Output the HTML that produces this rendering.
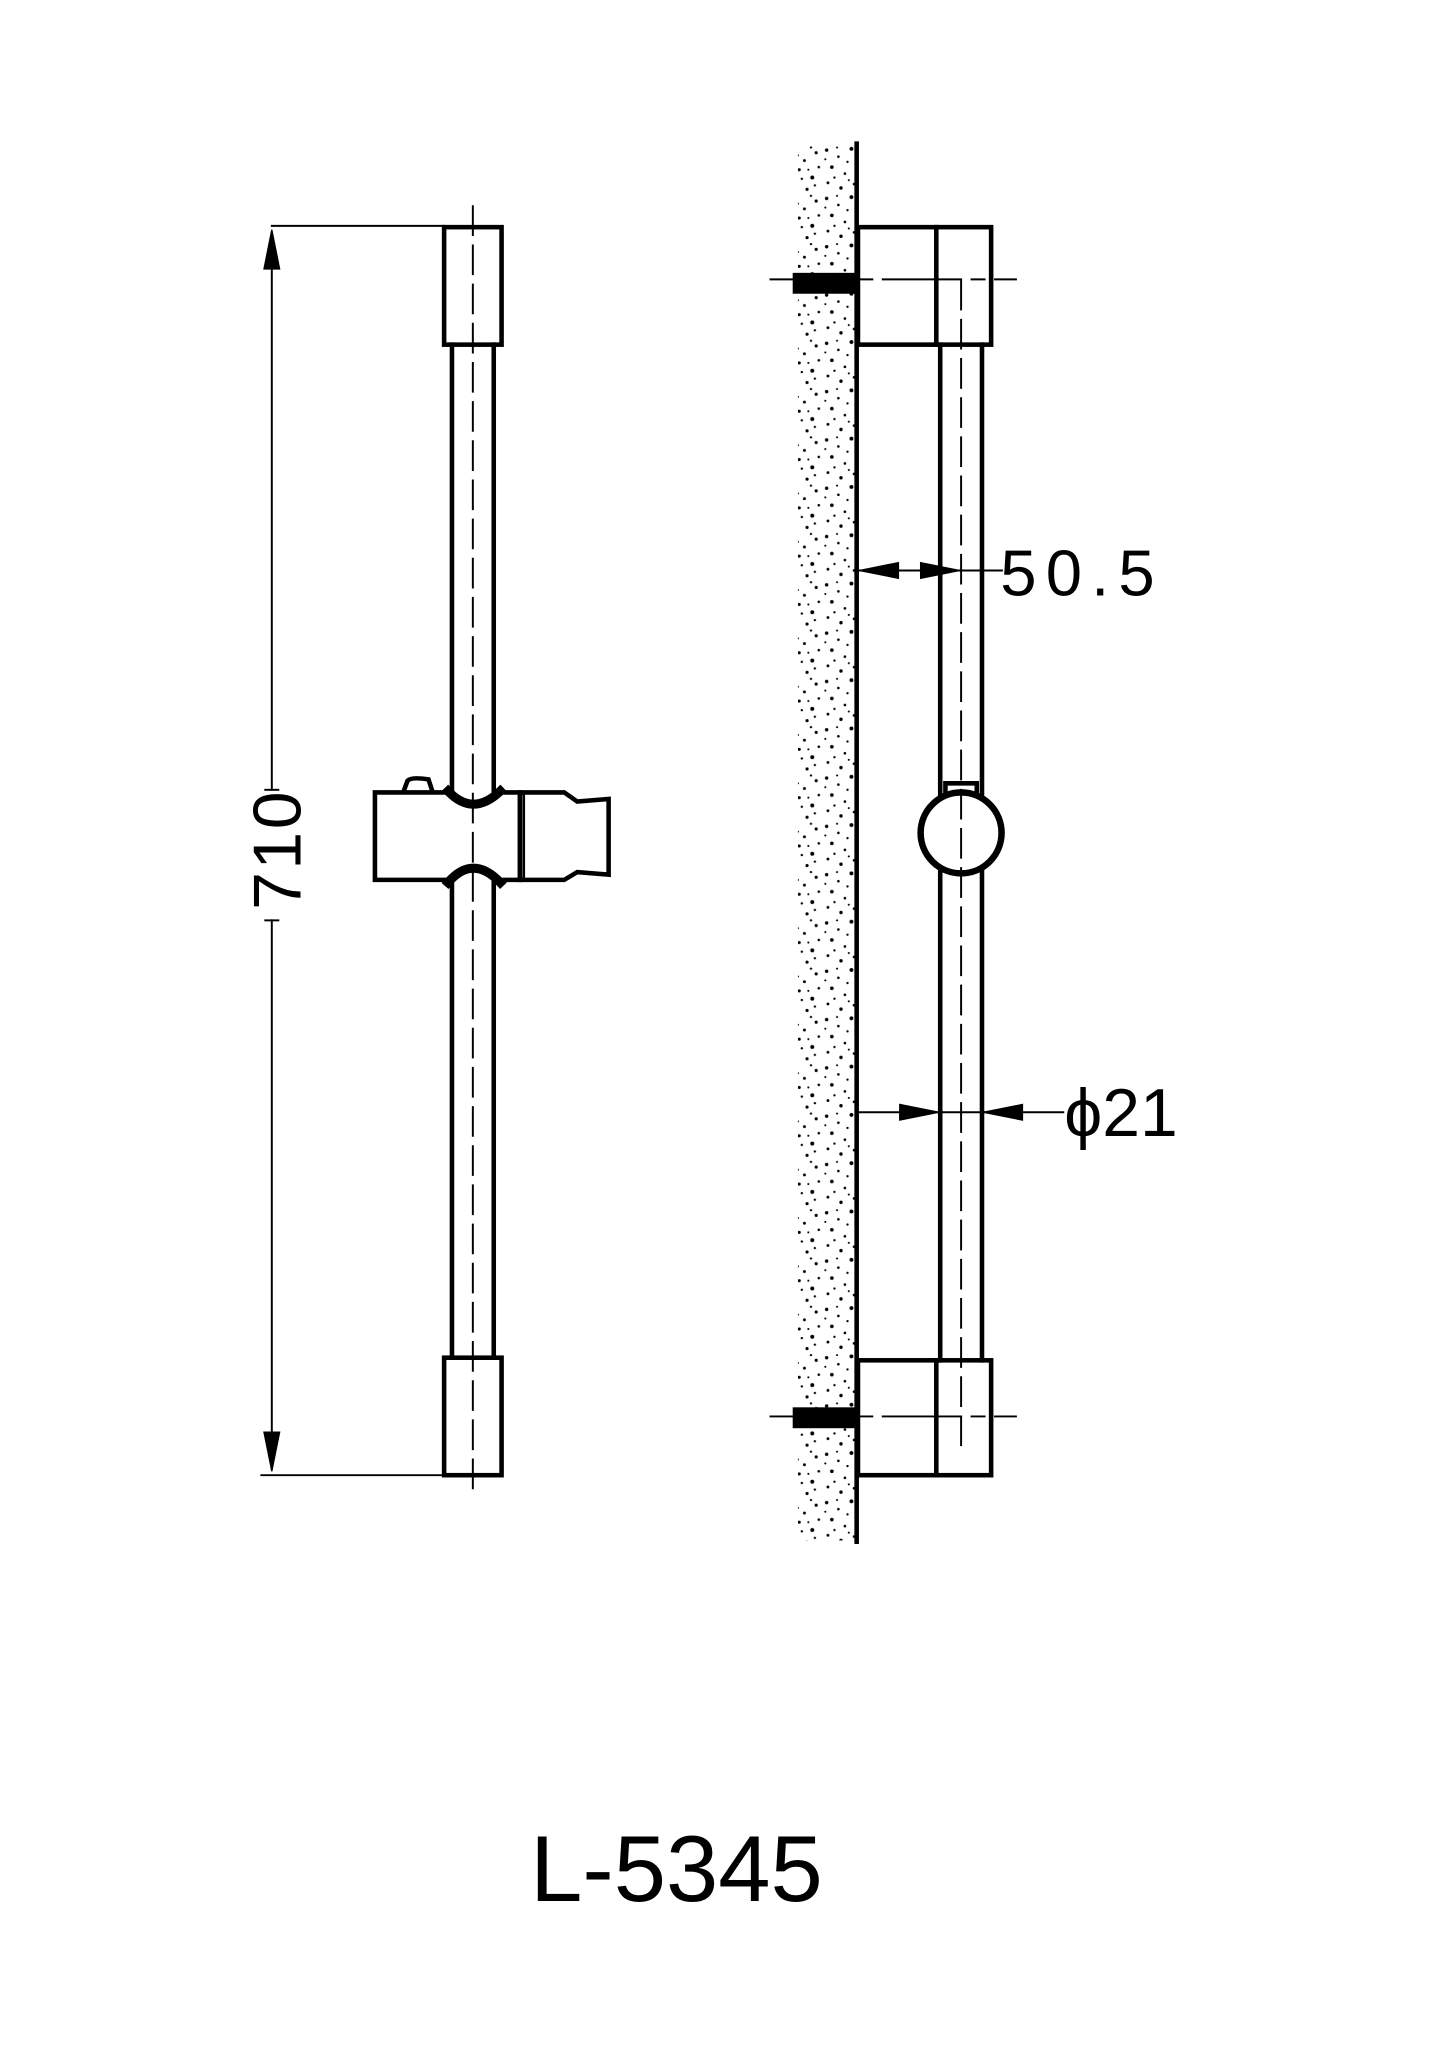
<!DOCTYPE html>
<html><head><meta charset="utf-8"><style>
html,body{margin:0;padding:0;background:#fff}
svg{display:block}
text{font-family:"Liberation Sans",sans-serif}
</style></head><body>
<svg width="1447" height="2047" viewBox="0 0 1108 1568" xmlns="http://www.w3.org/2000/svg">
<defs>
<pattern id="sp" width="45" height="37" patternUnits="userSpaceOnUse">
<g fill="#000">
<circle cx="3" cy="4" r="1.3"/><circle cx="12" cy="9" r="1"/><circle cx="22" cy="3" r="1.5"/>
<circle cx="31" cy="12" r="1.1"/><circle cx="40" cy="6" r="1.2"/><circle cx="7" cy="17" r="1.4"/>
<circle cx="17" cy="22" r="1"/><circle cx="27" cy="19" r="1.2"/><circle cx="37" cy="25" r="1.5"/>
<circle cx="4" cy="29" r="1.1"/><circle cx="14" cy="33" r="1.3"/><circle cx="24" cy="30" r="1"/>
<circle cx="33" cy="34" r="1.2"/><circle cx="42" cy="17" r="1"/><circle cx="19" cy="13" r="0.9"/>
<circle cx="9" cy="25" r="0.9"/><circle cx="29" cy="26" r="0.9"/><circle cx="36" cy="2" r="0.9"/>
<circle cx="2" cy="11" r="0.8"/><circle cx="26" cy="8" r="0.8"/><circle cx="39" cy="31" r="0.9"/>
<circle cx="11" cy="2" r="0.8"/><circle cx="20" cy="27" r="0.8"/><circle cx="34" cy="19" r="0.8"/>
</g></pattern>
</defs>
<g stroke="#000" fill="none" stroke-linecap="square">
<!-- LEFT VIEW -->
<line x1="208" y1="173" x2="340" y2="173" stroke-width="1.5"/>
<line x1="200" y1="1130" x2="340" y2="1130" stroke-width="1.5"/>
<line x1="208" y1="180" x2="208" y2="605" stroke-width="1.5"/>
<line x1="208" y1="705" x2="208" y2="1125" stroke-width="1.5"/>
<line x1="203" y1="605" x2="213" y2="605" stroke-width="1.5"/>
<line x1="203" y1="705" x2="213" y2="705" stroke-width="1.5"/>
<rect x="340" y="174" width="44" height="90" stroke-width="3.5"/>
<rect x="340" y="1040" width="44" height="90" stroke-width="3.5"/>
<line x1="346" y1="264" x2="346" y2="608" stroke-width="3.5"/>
<line x1="378" y1="264" x2="378" y2="608" stroke-width="3.5"/>
<line x1="346" y1="673" x2="346" y2="1040" stroke-width="3.5"/>
<line x1="378" y1="673" x2="378" y2="1040" stroke-width="3.5"/>
<line x1="362" y1="158" x2="362" y2="1145" stroke-width="1.5" stroke-dasharray="22,8"/>
<!-- clamp -->
<path d="M346 607 L287 607 L287 674 L346 674" stroke-width="3.5"/>
<path d="M343 606 Q362 626 383 606" stroke-width="7"/>
<path d="M343 676 Q362 654 383 676" stroke-width="7"/>
<line x1="383" y1="607" x2="398" y2="607" stroke-width="3.5"/>
<line x1="383" y1="674" x2="398" y2="674" stroke-width="3.5"/>
<line x1="398" y1="607" x2="398" y2="674" stroke-width="3.5"/>
<line x1="401" y1="607" x2="401" y2="674" stroke-width="2"/>
<path d="M401 607 L432 607 L442 614 L466 612 L466 670 L442 668 L432 674 L401 674" stroke-width="3.5"/>
<path d="M309 606 L312 598 Q315 595 328 597 L331 606" stroke-width="3.5"/>
<!-- RIGHT VIEW -->
<rect x="611" y="110" width="44" height="1070" fill="url(#sp)" stroke="none"/>
<line x1="656" y1="110" x2="656" y2="1181" stroke-width="3.5"/>
<rect x="657" y="174" width="102" height="90" stroke-width="3.5"/>
<line x1="717" y1="174" x2="717" y2="264" stroke-width="3.5"/>
<rect x="657" y="1042" width="102" height="88" stroke-width="3.5"/>
<line x1="717" y1="1042" x2="717" y2="1130" stroke-width="3.5"/>
<line x1="720" y1="264" x2="720" y2="610" stroke-width="3.5"/>
<line x1="752" y1="264" x2="752" y2="610" stroke-width="3.5"/>
<line x1="720" y1="668" x2="720" y2="1042" stroke-width="3.5"/>
<line x1="752" y1="668" x2="752" y2="1042" stroke-width="3.5"/>
<line x1="736" y1="215" x2="736" y2="1110" stroke-width="1.5" stroke-dasharray="22,8"/>
<line x1="590" y1="214" x2="778" y2="214" stroke-width="1.5" stroke-dasharray="60,8,10,8"/>
<line x1="590" y1="1085" x2="778" y2="1085" stroke-width="1.5" stroke-dasharray="60,8,10,8"/>
<circle cx="736" cy="638" r="31" stroke-width="5"/>
<path d="M724 608 L724 600 L748 600 L748 608" stroke-width="3.5"/>
</g>
<rect x="607" y="209" width="49" height="16" fill="#000"/>
<rect x="607" y="1078" width="49" height="16" fill="#000"/>
<!-- arrows -->
<g fill="#000" stroke="#000">
<polygon points="208,176 202,206 214,206"/>
<polygon points="208,1127 202,1097 214,1097"/>
<line x1="657" y1="437" x2="768" y2="437" stroke-width="1.5"/>
<polygon points="658,437 688,431 688,443"/>
<polygon points="735,437 705,431 705,443"/>
<line x1="657" y1="852" x2="815" y2="852" stroke-width="1.5"/>
<polygon points="719,852 689,846 689,858"/>
<polygon points="753,852 783,846 783,858"/>
</g>
<text x="0" y="0" font-size="52" fill="#000" transform="translate(230,697) rotate(-90)" letter-spacing="2">710</text>
<text x="766" y="456" font-size="50" fill="#000" letter-spacing="7">50.5</text>
<text x="815" y="870" font-size="52" fill="#000">ϕ21</text>
<text x="518" y="1456" font-size="72" fill="#000" text-anchor="middle">L-5345</text>
</svg>
</body></html>
